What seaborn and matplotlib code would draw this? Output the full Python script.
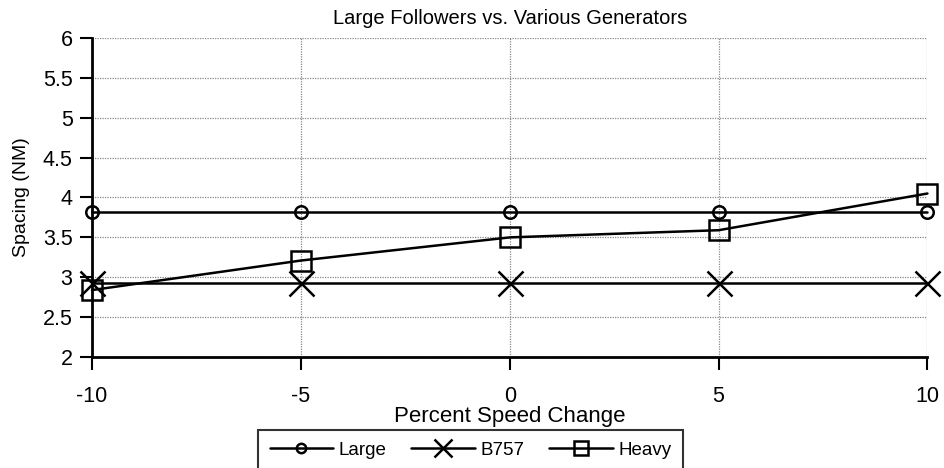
import seaborn as sns
import matplotlib.pyplot as plt
import pandas as pd

speed_change = [-10, -5, 0, 5, 10]
large = [3.82, 3.82, 3.82, 3.82, 3.82]
b757 = [2.93, 2.93, 2.93, 2.93, 2.93]
heavy = [2.84, 3.21, 3.5, 3.59, 4.05]

sns.set_style("white", {"text.color": "black", "axes.labelcolor": "black",
                        "xtick.color": "black", "ytick.color": "black"})
plt.rcParams['font.family'] = ['Liberation Sans', 'DejaVu Sans']
plt.rcParams['axes.unicode_minus'] = False

fig = plt.figure(figsize=(9.45, 4.68), dpi=100)
ax = fig.add_axes([0.0974, 0.237, 0.884, 0.682])

series = [
    ("Large", large, "o", 9, "none"),
    ("B757", b757, "x", 18, "black"),
    ("Heavy", heavy, "s", 14, "none"),
]
for name, vals, mk, ms, fc in series:
    df = pd.DataFrame({"x": speed_change, "y": vals})
    sns.lineplot(data=df, x="x", y="y", ax=ax, color="black", lw=1.8,
                 marker=mk, markersize=ms, mfc=fc, mec="black", mew=1.8,
                 label=name, clip_on=False, zorder=3)

ax.set_xlim(-10, 10)
ax.set_ylim(2, 6)
ax.set_xticks([-10, -5, 0, 5, 10])
ax.set_yticks([2, 2.5, 3, 3.5, 4, 4.5, 5, 5.5, 6])
ax.set_yticklabels(["2", "2.5", "3", "3.5", "4", "4.5", "5", "5.5", "6"])
ax.grid(True, color="#888888", linestyle=(0, (1, 1)), lw=0.9)

for s in ["top", "right"]:
    ax.spines[s].set_visible(False)
for s in ["left", "bottom"]:
    ax.spines[s].set_color("black")
    ax.spines[s].set_linewidth(2)

ax.tick_params(axis="both", direction="out", length=9, width=1.5, color="black",
               labelcolor="black", labelsize=15.5, left=True, bottom=True)
ax.tick_params(axis="x", pad=12)
ax.tick_params(axis="y", pad=5)

ax.set_title("Large Followers vs. Various Generators", fontsize=14.5, pad=10,
             color="black")
ax.set_xlabel("Percent Speed Change", fontsize=16, labelpad=-1, color="black")
ax.set_ylabel("Spacing (NM)", fontsize=14, labelpad=9, color="black")

leg = ax.legend(loc="upper center", bbox_to_anchor=(0.453, -0.2), ncol=3,
                frameon=True, fancybox=False, fontsize=13.5, handlelength=3.4,
                handletextpad=0.3, columnspacing=1.3, borderpad=0.6,
                markerscale=0.75, labelcolor="black")
leg.get_frame().set_edgecolor("black")
leg.get_frame().set_linewidth(1.5)

fig.savefig("out.png", dpi=100)
